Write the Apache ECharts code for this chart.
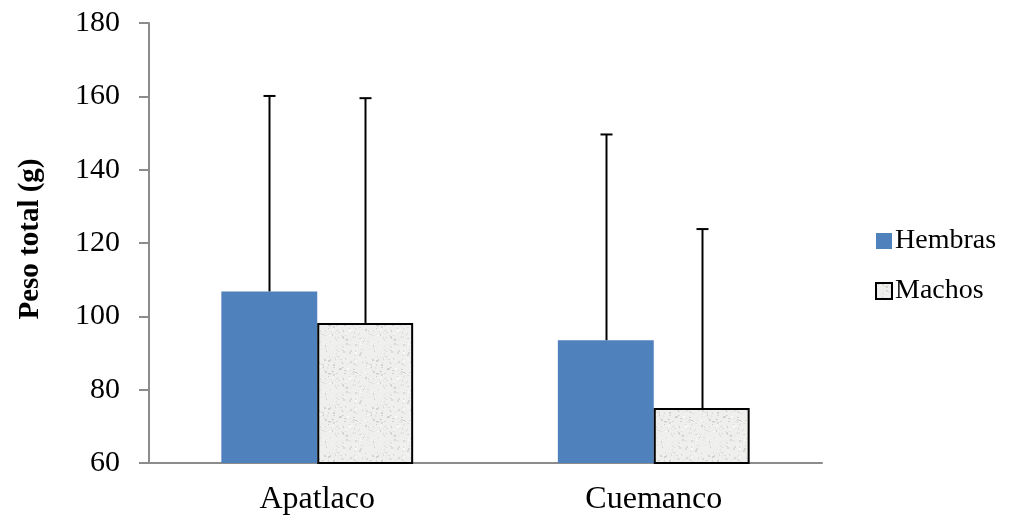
<!DOCTYPE html>
<html>
<head>
<meta charset="utf-8">
<script src="https://cdn.jsdelivr.net/npm/echarts@6/dist/echarts.min.js"></script>
<style>
  html, body { margin: 0; padding: 0; background: #fff; }
  #chart { width: 1013px; height: 518px; }
</style>
</head>
<body>
<div id="chart"></div>
<script>
const sites = ['Apatlaco', 'Cuemanco'];
const hembras = [106.8, 93.5];
const machos = [98.2, 75.0];
// upper end of the error bars (mean + SD)
const hembrasTop = [160.1, 149.6];
const machosTop = [159.5, 123.8];
const yTicks = [60, 80, 100, 120, 140, 160, 180];

const FONT = 'Liberation Serif';
const BAR_FRAC = 0.285;

// speckled light-grey fill, like the Excel texture
function makeTexture() {
  const c = document.createElement('canvas');
  c.width = 48; c.height = 48;
  const ctx = c.getContext('2d');
  ctx.fillStyle = '#efefed';
  ctx.fillRect(0, 0, 48, 48);
  let s = 7;
  const next = () => { s = (s * 1103515245 + 12345) % 2147483648; return s / 2147483648; };
  for (let i = 0; i < 260; i++) {
    const g = Math.round(205 + next() * 45);
    ctx.fillStyle = 'rgb(' + g + ',' + g + ',' + (g - 2) + ')';
    ctx.fillRect(Math.floor(next() * 48), Math.floor(next() * 48), 1 + Math.floor(next() * 2), 1 + Math.floor(next() * 2));
  }
  return c;
}

const chart = echarts.init(document.getElementById('chart'));

function errorBar(offsetSign) {
  return function (params, api) {
    const idx = api.value(0);
    const base = api.coord([idx, api.value(1)]);
    const top = api.coord([idx, api.value(2)]);
    const band = api.size([1, 0])[0];
    const x = Math.round(base[0] + offsetSign * band * BAR_FRAC / 2) + 0.5;
    const style = { stroke: '#000', lineWidth: 2 };
    return {
      type: 'group',
      children: [
        { type: 'line', shape: { x1: x, y1: base[1], x2: x, y2: top[1] }, style: style },
        { type: 'line', shape: { x1: x - 6, y1: top[1], x2: x + 6, y2: top[1] }, style: style }
      ]
    };
  };
}

chart.setOption({
  animation: false,
  textStyle: { fontFamily: FONT },
  grid: { left: 149, right: 191, top: 23, bottom: 55 },
  legend: {
    data: ['Hembras', 'Machos'],
    orient: 'vertical',
    left: 870,
    top: 222,
    itemWidth: 16,
    itemHeight: 16,
    itemGap: 22,
    icon: 'rect',
    textStyle: { fontFamily: FONT, fontSize: 28, color: '#000', padding: [0, 0, 0, -2] }
  },
  xAxis: {
    type: 'category',
    data: sites,
    axisLine: { lineStyle: { color: '#8c8c8c', width: 2 } },
    axisTick: { length: 8, lineStyle: { color: '#8c8c8c', width: 2 } },
    axisLabel: { fontFamily: FONT, fontSize: 32, color: '#000', margin: 21 }
  },
  yAxis: {
    type: 'value',
    min: 60,
    max: 180,
    interval: 20,
    name: 'Peso total (g)',
    nameLocation: 'middle',
    nameGap: 104,
    nameTextStyle: { fontFamily: FONT, fontSize: 29, fontWeight: 'bold', color: '#000', padding: [0, 0, 0, 8] },
    axisLine: { show: true, lineStyle: { color: '#8c8c8c', width: 2 } },
    axisTick: { show: true, length: 10, lineStyle: { color: '#8c8c8c', width: 2 } },
    splitLine: { show: false },
    axisLabel: {
      fontFamily: FONT, fontSize: 30, color: '#000', margin: 29,
      formatter: v => yTicks.includes(v) ? String(v) : ''
    }
  },
  series: [
    {
      name: 'Hembras',
      type: 'bar',
      data: hembras,
      barWidth: (BAR_FRAC * 100) + '%',
      barGap: '0%',
      itemStyle: { color: '#4f81bd' },
      z: 2
    },
    {
      name: 'Machos',
      type: 'bar',
      data: machos,
      barWidth: (BAR_FRAC * 100) + '%',
      itemStyle: {
        color: { image: makeTexture(), repeat: 'repeat' },
        borderColor: '#000',
        borderWidth: 2
      },
      z: 2
    },
    {
      name: 'errH',
      type: 'custom',
      renderItem: errorBar(-1),
      data: sites.map((s, i) => [i, hembras[i], hembrasTop[i]]),
      encode: { x: 0, y: [1, 2] },
      z: 3
    },
    {
      name: 'errM',
      type: 'custom',
      renderItem: errorBar(1),
      data: sites.map((s, i) => [i, machos[i], machosTop[i]]),
      encode: { x: 0, y: [1, 2] },
      z: 3
    }
  ]
});
</script>
</body>
</html>
